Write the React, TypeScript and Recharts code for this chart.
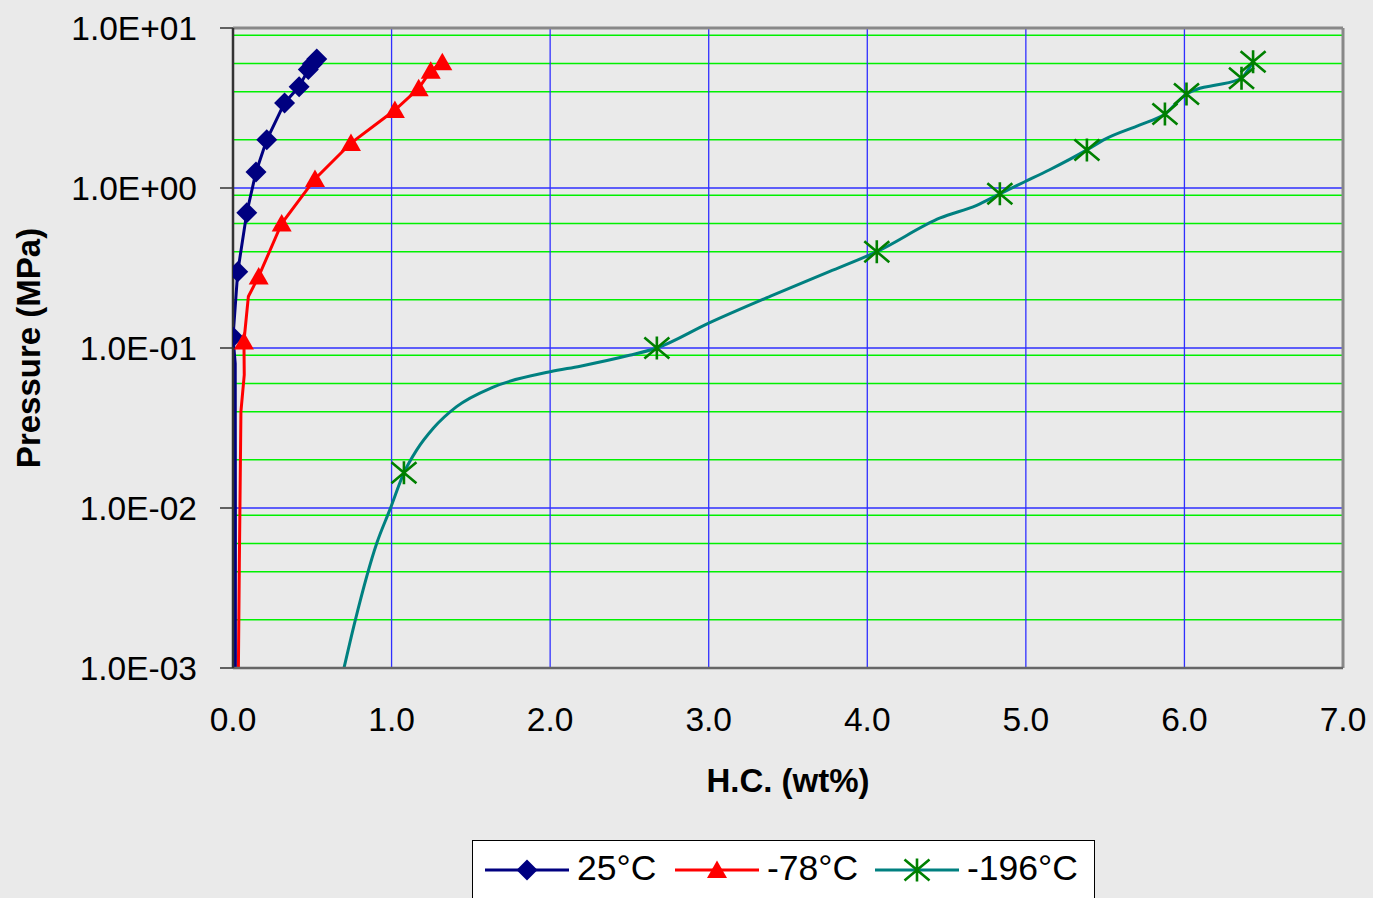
import {
  ComposedChart,
  Line,
  Scatter,
  XAxis,
  YAxis,
  CartesianGrid,
  ReferenceLine,
  Legend,
  Label,
} from 'recharts';

// axis ticks
const hcTicks = [0, 1, 2, 3, 4, 5, 6, 7];
const pressureTicks = [0.001, 0.01, 0.1, 1, 10];
const decadeLines = [0.01, 0.1, 1];
const minorMantissas = [2, 3, 4, 5, 6, 7, 8, 9];
const minorDecades = [0.001, 0.01, 0.1, 1];
const hcGridLines = [1, 2, 3, 4, 5, 6];

// 25°C - markers
const rtMarkX = [0.0, 0.03, 0.087, 0.145, 0.213, 0.325, 0.417, 0.475, 0.5, 0.528];
const rtMarkY = [0.117, 0.3, 0.7, 1.26, 2.0, 3.4, 4.3, 5.5, 5.95, 6.4];
// 25°C - curve
const rtCurveX = [0.015, 0.015, 0.014, 0.0, 0.017, 0.03, 0.087, 0.145, 0.213, 0.325, 0.417, 0.475, 0.528];
const rtCurveY = [0.001, 0.01, 0.08, 0.117, 0.2, 0.3, 0.7, 1.26, 2.0, 3.4, 4.3, 5.5, 6.4];

// -78°C - markers
const dryMarkX = [0.069, 0.162, 0.307, 0.517, 0.744, 1.021, 1.171, 1.247, 1.32];
const dryMarkY = [0.11, 0.28, 0.6, 1.14, 1.91, 3.07, 4.2, 5.4, 6.1];
// -78°C - curve
const dryCurveX = [0.034, 0.04, 0.05, 0.071, 0.069, 0.097, 0.162, 0.307, 0.517, 0.744, 1.021, 1.171, 1.247, 1.32];
const dryCurveY = [0.001, 0.0045, 0.04, 0.068, 0.11, 0.21, 0.28, 0.6, 1.14, 1.91, 3.07, 4.2, 5.4, 6.1];

// -196°C - markers
const lnMarkX = [1.078, 2.673, 4.06, 4.836, 5.385, 5.877, 6.013, 6.36, 6.433];
const lnMarkY = [0.0166, 0.1, 0.4, 0.92, 1.73, 2.9, 3.87, 4.85, 6.16];
// -196°C - curve
const lnCurveX = [0.7, 0.769, 0.906, 0.99, 1.078, 1.158, 1.263, 1.41, 1.641, 2.0, 2.19, 2.5, 2.673, 3.0, 3.39, 3.76, 4.06, 4.46, 4.69, 4.836, 4.99, 5.15, 5.385, 5.5, 5.72, 5.877, 6.013, 6.097, 6.2, 6.36, 6.4, 6.433];
const lnCurveY = [0.001, 0.00195, 0.006, 0.0098, 0.0166, 0.023, 0.0315, 0.043, 0.057, 0.071, 0.077, 0.09, 0.1, 0.143, 0.211, 0.3, 0.4, 0.65, 0.78, 0.92, 1.09, 1.3, 1.73, 2.02, 2.48, 2.9, 3.87, 4.2, 4.4, 4.85, 5.46, 6.16];

const seriesNames = ['25°C', '-78°C', '-196°C'];

const FONT = '"Liberation Sans", Arial, sans-serif';

const toPoints = (xs: number[], ys: number[]) => xs.map((x, i) => ({ x, y: ys[i] }));

const minorLines = minorDecades.flatMap((d) => minorMantissas.map((m) => Number((d * m).toPrecision(3))));

type Kind = 'diamond' | 'triangle' | 'star';

const series = [
  {
    name: seriesNames[0],
    curve: toPoints(rtCurveX, rtCurveY),
    marks: toPoints(rtMarkX, rtMarkY),
    lineColor: '#000080',
    markColor: '#000080',
    kind: 'diamond' as Kind,
    curveType: 'linear' as const,
  },
  {
    name: seriesNames[1],
    curve: toPoints(dryCurveX, dryCurveY),
    marks: toPoints(dryMarkX, dryMarkY),
    lineColor: '#ff0000',
    markColor: '#ff0000',
    kind: 'triangle' as Kind,
    curveType: 'linear' as const,
  },
  {
    name: seriesNames[2],
    curve: toPoints(lnCurveX, lnCurveY),
    marks: toPoints(lnMarkX, lnMarkY),
    lineColor: '#008080',
    markColor: '#008000',
    kind: 'star' as Kind,
    curveType: 'monotone' as const,
  },
];

function Marker({ cx, cy, kind, color }: { cx: number; cy: number; kind: Kind; color: string }) {
  if (cx == null || cy == null) return null;
  if (kind === 'diamond') {
    const r = 10.5;
    return <polygon points={`${cx},${cy - r} ${cx + r},${cy} ${cx},${cy + r} ${cx - r},${cy}`} fill={color} />;
  }
  if (kind === 'triangle') {
    return <polygon points={`${cx},${cy - 9.5} ${cx + 10},${cy + 8} ${cx - 10},${cy + 8}`} fill={color} />;
  }
  return (
    <path
      d={`M${cx},${cy - 11.5}V${cy + 11.5}M${cx - 12.5},${cy - 10.5}L${cx + 12.5},${cy + 10.5}M${cx - 12.5},${cy + 10.5}L${cx + 12.5},${cy - 10.5}`}
      stroke={color}
      strokeWidth={2.6}
      fill="none"
    />
  );
}

const formatPressure = (v: number) => {
  const e = Math.round(Math.log10(v));
  return `1.0E${e < 0 ? '-' : '+'}${String(Math.abs(e)).padStart(2, '0')}`;
};

const legendOffsets = [13, 203, 403];

function LegendBox() {
  return (
    <svg width={624} height={70} style={{ display: 'block' }}>
      <rect x={0.5} y={0.5} width={622} height={69} fill="#ffffff" stroke="#000000" strokeWidth={1} />
      {series.map((s, i) => {
        const x0 = legendOffsets[i];
        return (
          <g key={s.name}>
            <line x1={x0} x2={x0 + 84} y1={30} y2={30} stroke={s.lineColor} strokeWidth={3} />
            <Marker cx={x0 + 42} cy={30} kind={s.kind} color={s.markColor} />
            <text x={x0 + 92} y={40} fontSize={35.5} fontFamily={FONT} fill="#000">
              {s.name}
            </text>
          </g>
        );
      })}
    </svg>
  );
}

function PressureTitle(props: any) {
  const vb = props.viewBox || { x: 0, y: 28, width: 233, height: 640 };
  const x = vb.x + 40;
  const y = vb.y + vb.height / 2;
  return (
    <text
      x={x}
      y={y}
      transform={`rotate(-90, ${x}, ${y})`}
      textAnchor="middle"
      fontSize={33}
      fontWeight="bold"
      fontFamily={FONT}
      fill="#000"
    >
      Pressure (MPa)
    </text>
  );
}

export default function App() {
  return (
    <div style={{ width: 1373, height: 898, background: '#eaeaea', overflow: 'hidden', fontFamily: FONT }}>
      <style>{'body{margin:0;background:#eaeaea}'}</style>
      <ComposedChart width={1373} height={898} margin={{ top: 28, right: 30, bottom: 42, left: 0 }}>
        <CartesianGrid horizontalValues={minorLines} vertical={false} stroke="#00f000" strokeWidth={1.5} />
        <CartesianGrid horizontalValues={decadeLines} verticalValues={hcGridLines} stroke="#2f2fff" strokeWidth={1.3} />
        <XAxis
          type="number"
          dataKey="x"
          domain={[0, 7]}
          ticks={hcTicks}
          allowDataOverflow
          tickFormatter={(v: number) => v.toFixed(1)}
          tickLine={false}
          tickSize={0}
          tickMargin={39}
          height={130}
          axisLine={{ stroke: '#666', strokeWidth: 2.5 }}
          tick={{ fill: '#000', fontSize: 33.5, fontFamily: FONT }}
        >
          <Label
            value="H.C. (wt%)"
            position="insideBottom"
            offset={6}
            style={{ fontWeight: 'bold', fontSize: 33, fill: '#000', fontFamily: FONT }}
          />
        </XAxis>
        <YAxis
          type="number"
          scale="log"
          domain={[0.001, 10]}
          ticks={pressureTicks}
          allowDataOverflow
          width={233}
          tickFormatter={formatPressure}
          tickSize={13}
          tickMargin={23}
          tickLine={{ stroke: '#333', strokeWidth: 1.5 }}
          axisLine={{ stroke: '#333', strokeWidth: 2.5 }}
          tick={{ fill: '#000', fontSize: 33.5, fontFamily: FONT }}
        >
          <Label content={PressureTitle} />
        </YAxis>
        <ReferenceLine y={10} stroke="#888" strokeWidth={3} />
        <ReferenceLine x={7} stroke="#888" strokeWidth={3} />
        {series.map((s) => (
          <Line
            key={`c-${s.name}`}
            data={s.curve}
            dataKey="y"
            type={s.curveType}
            stroke={s.lineColor}
            strokeWidth={3}
            dot={false}
            activeDot={false}
            isAnimationActive={false}
            legendType="none"
          />
        ))}
        {series.map((s) => (
          <Scatter
            key={`m-${s.name}`}
            name={s.name}
            data={s.marks}
            dataKey="y"
            fill={s.markColor}
            isAnimationActive={false}
            shape={(p: any) => <Marker cx={p.cx} cy={p.cy} kind={s.kind} color={s.markColor} />}
          />
        ))}
        <Legend
          content={() => <LegendBox />}
          wrapperStyle={{ position: 'absolute', left: 472, top: 840, bottom: 'auto', width: 624, height: 58, overflow: 'hidden', margin: 0, padding: 0 }}
        />
      </ComposedChart>
    </div>
  );
}
